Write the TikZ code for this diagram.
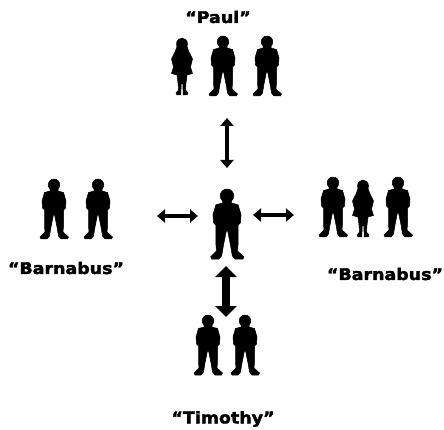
\documentclass[tikz,border=0pt]{standalone}
\usepackage{fontspec}
\setmainfont{DejaVu Sans}
\newfontfamily\labfont[FakeStretch=1.09,BoldFeatures={FakeBold=2.4}]{DejaVu Sans}
\usetikzlibrary{arrows.meta}
\tikzset{
  x=1pt,y=-1pt,
  lab/.style={font=\labfont\bfseries\fontsize{16}{18}\selectfont,text=black,inner sep=0pt,anchor=center},
  biarrow/.style={draw=black,line width=3.6pt,{Triangle[length=8pt,width=13pt]}-{Triangle[length=8pt,width=13pt]}},
  vbiarrow/.style={biarrow,line width=4.4pt},
  bigarrow/.style={draw=black,line width=7.5pt,{Triangle[length=11pt,width=21pt]}-{Triangle[length=11pt,width=21pt]}},
  figshape/.style={fill=black,draw=black,line width=0.5pt,line join=round},
  man/.pic={
    \path[figshape] (0,5.8) ellipse[x radius=5.8,y radius=5.8];
    \path[figshape]
      (-4,10) -- (-4,12) -- (-9.5,13.5) -- (-12,22) -- (-11.5,29) -- (-9.5,31) -- (-9.5,37)
      -- (-9.5,47) -- (-9,53) -- (-14,58) -- (-13,60) -- (-7,60) -- (-4.5,57) -- (-3,48)
      -- (-0.6,36) -- (0.6,36) -- (3,48) -- (4.5,57) -- (7,60) -- (13.5,60) -- (14.5,58)
      -- (9,53) -- (9.5,47) -- (9.5,37) -- (9.5,31) -- (11.5,29) -- (12,22)
      -- (9.5,13.5) -- (4,12) -- (4,10) -- cycle;
  },
  woman/.pic={
    \path[figshape] (0,6) ellipse[x radius=5.5,y radius=6];
    \path[figshape]
      (-4,6) -- (-7,14) -- (-10.5,21) -- (-8.5,29) -- (-10.5,35.5) -- (-5,37)
      -- (-4,45) -- (-3.5,52) -- (-6,55) -- (-5,57) -- (-1.2,57) -- (-0.8,46)
      -- (0.8,46) -- (1.2,57) -- (5,57) -- (6,55) -- (3.5,52) -- (4,45) -- (5,37)
      -- (10.5,35.5) -- (8.5,29) -- (10.5,21) -- (7,14) -- (4,6) -- cycle;
  },
}
\begin{document}
\begin{tikzpicture}
\useasboundingbox (0,0) rectangle (444,430);
% top group
\pic at (182,38) {woman};
\pic at (223,36) {man};
\pic at (267,36) {man};
% left group
\pic at (54,179) {man};
\pic at (98,179) {man};
% right group
\pic at (333,177) {man};
\pic at (363,180) {woman};
\pic at (398,177) {man};
% bottom group
\pic at (208,315) {man};
\pic at (245,315) {man};
% centre
\pic[scale=1.17] at (227,189) {man};
% labels
\node[lab] (paul) at (218,17) {“Paul”};
\node[lab] (barnabusL) at (66,268) {“Barnabus”};
\node[lab] (barnabusR) at (385,274) {“Barnabus”};
\node[lab] (timothy) at (223,419) {“Timothy”};
% arrow ends
\coordinate (tA) at (227,118);
\coordinate (tB) at (227,168);
\coordinate (lA) at (157,216);
\coordinate (lB) at (198,216);
\coordinate (rA) at (253,215);
\coordinate (rB) at (294,215);
\coordinate (bA) at (226,266);
\coordinate (bB) at (226,317);
\draw[vbiarrow] (tA) -- (tB);
\draw[biarrow] (lA) -- (lB);
\draw[biarrow] (rA) -- (rB);
\draw[bigarrow] (bA) -- (bB);
\end{tikzpicture}
\end{document}
